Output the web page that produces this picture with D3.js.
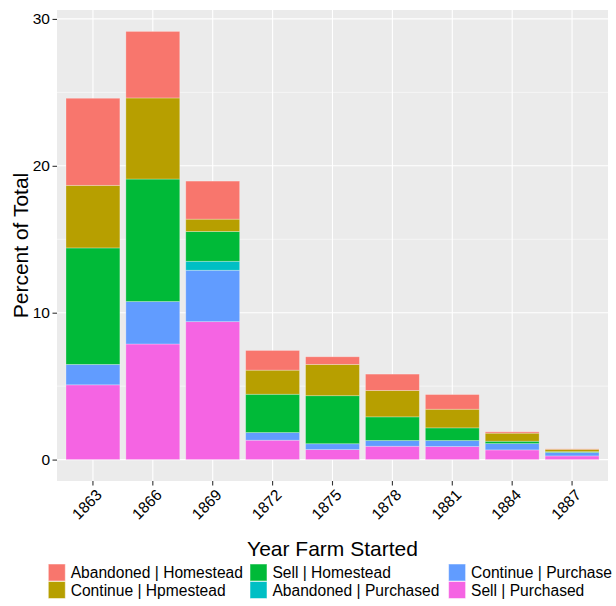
<!DOCTYPE html>
<html>
<head>
<meta charset="utf-8">
<script src="https://cdn.jsdelivr.net/npm/d3@7"></script>
<style>
  html, body { margin: 0; padding: 0; background: #ffffff; }
  svg { display: block; }
  text { font-family: "Liberation Sans", Arial, sans-serif; }
</style>
</head>
<body>
<svg id="chart" width="616" height="606"></svg>
<script>
// ---- Data (percent of total) ----
const years = ["1863","1866","1869","1872","1875","1878","1881","1884","1887"];
const seriesNames = ["Abandoned | Homestead","Continue | Hpmestead","Sell | Homestead","Abandoned | Purchased","Continue | Purchase","Sell | Purchased"];
const seriesColors = ["#F8766D","#B79F00","#00BA38","#00BFC4","#619CFF","#F564E3"];
const abandonedHomestead = [5.93, 4.53, 2.59, 1.34, 0.52, 1.11, 1.00, 0.09, 0.03];
const continueHomestead  = [4.26, 5.52, 0.84, 1.64, 2.13, 1.80, 1.27, 0.55, 0.16];
const sellHomestead      = [7.93, 8.34, 2.03, 2.61, 3.27, 1.61, 0.86, 0.16, 0.05];
const abandonedPurchased = [0.00, 0.00, 0.61, 0.00, 0.00, 0.00, 0.00, 0.00, 0.00];
const continuePurchase   = [1.39, 2.89, 3.50, 0.52, 0.40, 0.39, 0.41, 0.43, 0.24];
const sellPurchased      = [5.09, 7.87, 9.39, 1.32, 0.68, 0.91, 0.89, 0.66, 0.25];
const yTicks = [0, 10, 20, 30];
const yMinor = [5, 15, 25];

const seriesValues = [abandonedHomestead, continueHomestead, sellHomestead,
                      abandonedPurchased, continuePurchase, sellPurchased];

// table for d3.stack
const table = years.map((y, i) => {
  const row = { year: y };
  seriesNames.forEach((s, j) => { row[s] = seriesValues[j][i]; });
  return row;
});

// stack bottom-up: last legend item at the bottom (ggplot ordering)
const stackKeys = seriesNames.slice().reverse();
const stacked = d3.stack().keys(stackKeys)(table);

// ---- Layout ----
const svg = d3.select("#chart");
const panel = { left: 57, right: 608, top: 10, bottom: 481 };
const font = '"Liberation Sans", Arial, sans-serif';

const totals = table.map(r => d3.sum(seriesNames, s => r[s]));
const ymax = d3.max(totals);
const pad = ymax * 0.05;

const x = d3.scaleBand().domain(years)
  .range([panel.left, panel.right])
  .paddingInner(0.1).paddingOuter(0.15);
const y = d3.scaleLinear().domain([-pad, ymax + pad]).range([panel.bottom, panel.top]);

// panel background
svg.append("rect")
  .attr("x", panel.left).attr("y", panel.top)
  .attr("width", panel.right - panel.left).attr("height", panel.bottom - panel.top)
  .attr("fill", "#EBEBEB");

// minor gridlines
svg.append("g").selectAll("line").data(yMinor).join("line")
  .attr("x1", panel.left).attr("x2", panel.right)
  .attr("y1", d => y(d)).attr("y2", d => y(d))
  .attr("stroke", "#ffffff").attr("stroke-width", 0.55);

// major gridlines
svg.append("g").selectAll("line").data(yTicks).join("line")
  .attr("x1", panel.left).attr("x2", panel.right)
  .attr("y1", d => y(d)).attr("y2", d => y(d))
  .attr("stroke", "#ffffff").attr("stroke-width", 1.1);
svg.append("g").selectAll("line").data(years).join("line")
  .attr("x1", d => x(d) + x.bandwidth() / 2).attr("x2", d => x(d) + x.bandwidth() / 2)
  .attr("y1", panel.top).attr("y2", panel.bottom)
  .attr("stroke", "#ffffff").attr("stroke-width", 1.1);

// bars
const colorOf = d3.scaleOrdinal().domain(seriesNames).range(seriesColors);
svg.append("g").selectAll("g").data(stacked).join("g")
  .attr("fill", d => colorOf(d.key))
  .selectAll("rect").data(d => d.filter(p => p[1] - p[0] > 0)).join("rect")
  .attr("x", d => x(d.data.year))
  .attr("width", x.bandwidth())
  .attr("y", d => y(d[1]))
  .attr("height", d => y(d[0]) - y(d[1]))
  .attr("stroke", "rgba(255,255,255,0.35)")
  .attr("stroke-width", 0.8);

// y axis
const yAxis = d3.axisLeft(y).tickValues(yTicks).tickSize(4.5).tickPadding(2.5);
const gy = svg.append("g").attr("transform", `translate(${panel.left},0)`).call(yAxis);
gy.select(".domain").remove();
gy.selectAll(".tick line").attr("stroke", "#333333").attr("stroke-width", 1.1);
gy.selectAll(".tick text").attr("fill", "#000000")
  .style("font-size", "15.5px").style("font-family", font);

// x axis
const xAxis = d3.axisBottom(x).tickSize(4.5).tickPadding(0);
const gx = svg.append("g").attr("transform", `translate(0,${panel.bottom})`).call(xAxis);
gx.select(".domain").remove();
gx.selectAll(".tick line").attr("stroke", "#333333").attr("stroke-width", 1.1);
gx.selectAll(".tick text")
  .attr("fill", "#000000")
  .style("font-size", "15.5px").style("font-family", font)
  .attr("text-anchor", "end")
  .attr("dy", null)
  .attr("y", 0)
  .attr("transform", "translate(10,15) rotate(-45)");

// axis titles
svg.append("text")
  .attr("x", (panel.left + panel.right) / 2).attr("y", 556)
  .attr("text-anchor", "middle")
  .style("font-size", "21px").style("font-family", font)
  .attr("fill", "#000000")
  .text("Year Farm Started");
svg.append("text")
  .attr("transform", `translate(27.5,${(panel.top + panel.bottom) / 2}) rotate(-90)`)
  .attr("text-anchor", "middle")
  .style("font-size", "21px").style("font-family", font)
  .attr("fill", "#000000")
  .text("Percent of Total");

// legend: 3 columns x 2 rows, filled by column
const legendCols = [48.3, 250, 448.6];
const legendRows = [564, 581.5];
const keySize = 17;
const legend = svg.append("g");
seriesNames.forEach((s, i) => {
  const cx = legendCols[Math.floor(i / 2)];
  const cy = legendRows[i % 2];
  legend.append("rect")
    .attr("x", cx).attr("y", cy)
    .attr("width", keySize).attr("height", keySize)
    .attr("fill", colorOf(s))
    .attr("stroke", "rgba(255,255,255,0.5)").attr("stroke-width", 1);
  legend.append("text")
    .attr("x", cx + 22.4).attr("y", cy + 14.3)
    .style("font-size", "15.6px").style("font-family", font)
    .attr("fill", "#000000")
    .text(s);
});
</script>
</body>
</html>
